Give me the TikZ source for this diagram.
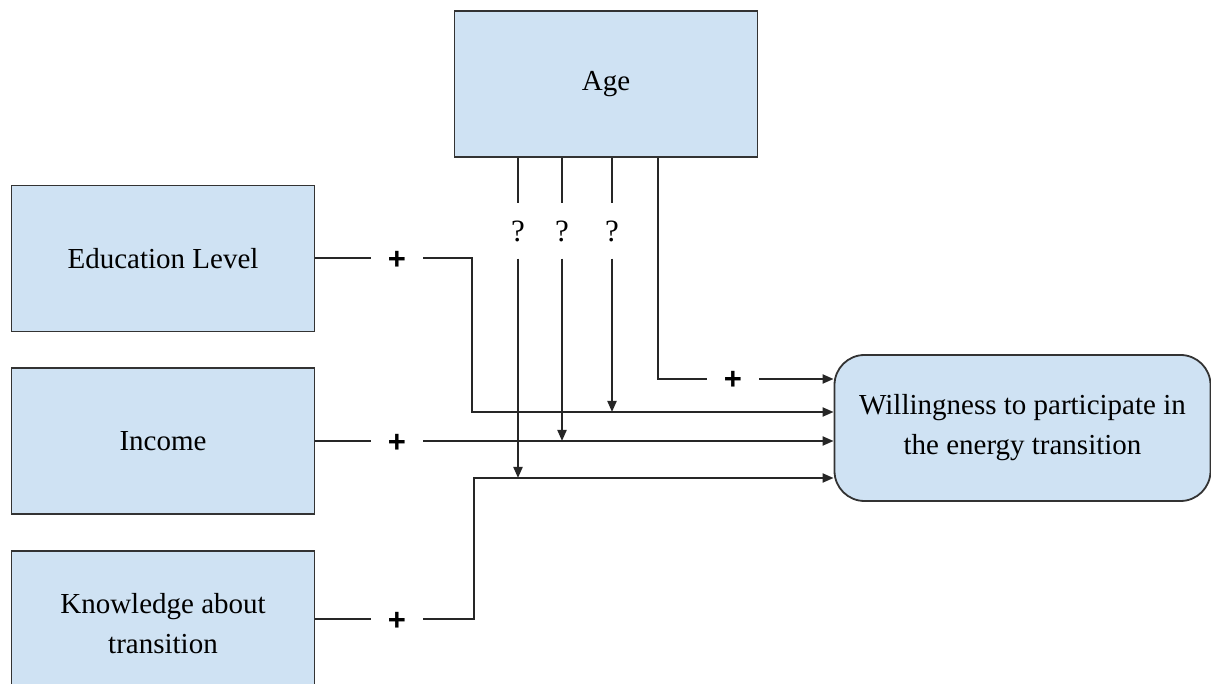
\documentclass[tikz,border=0pt]{standalone}
\usepackage{fontspec}
\setmainfont{Liberation Serif}
\setsansfont{Liberation Sans}
\usetikzlibrary{arrows.meta}
\definecolor{boxfill}{HTML}{CFE2F3}
\definecolor{boxline}{HTML}{333333}
\begin{document}
\begin{tikzpicture}[x=1pt,y=-1pt,
  box/.style={draw=boxline,line width=1.8pt,fill=boxfill,rectangle,
    minimum width=303pt,minimum height=146pt,inner sep=0pt,align=center,
    font=\fontsize{29}{40}\selectfont},
  line/.style={draw=black!85,line width=2pt},
  arr/.style={line,-{Triangle[length=11pt,width=9pt]}},
  plus/.style={rectangle,inner sep=0pt,minimum width=52pt,minimum height=20pt,
    font=\sffamily\bfseries\fontsize{31}{31}\selectfont},
  qm/.style={rectangle,inner sep=0pt,minimum width=14pt,minimum height=55pt,
    font=\fontsize{31}{31}\selectfont}]
\useasboundingbox (0,0) rectangle (1211,684);
% boxes
\node[box] (age) at (606,84) {Age};
\node[box] (edu) at (163,258.5) {Education Level};
\node[box] (inc) at (163,441) {Income};
\node[box] (know) at (163,624) {Knowledge about\\transition};
\node[box,rounded corners=30pt,minimum width=376pt] (will) at (1022.5,428)
  {Willingness to participate in\\the energy transition};
% plus labels
\node[plus] (p1) at (397,260) {+};
\node[plus] (p2) at (397,443) {+};
\node[plus] (p3) at (397,621) {+};
\node[plus] (p4) at (733,380) {+};
% question labels
\node[qm] (q1) at (518,231) {?};
\node[qm] (q2) at (562,231) {?};
\node[qm] (q3) at (612,231) {?};
% turn points
\coordinate (eduturn) at (472,412);
\coordinate (knowturn) at (474,478);
\coordinate (ageturn) at (658,379);
% education
\draw[line] (edu.east |- 0,258) -- (p1.west |- 0,258);
\draw[arr] (p1.east |- 0,258) -- (eduturn |- 0,258) -- (eduturn) -- (will.west |- eduturn);
% income
\draw[line] (inc.east |- 0,441) -- (p2.west |- 0,441);
\draw[arr] (p2.east |- 0,441) -- (will.west |- 0,441);
% knowledge
\draw[line] (know.east |- 0,619) -- (p3.west |- 0,619);
\draw[arr] (p3.east |- 0,619) -- (knowturn |- 0,619) -- (knowturn) -- (will.west |- knowturn);
% age direct
\draw[line] (age.south -| ageturn) -- (ageturn) -- (p4.west |- ageturn);
\draw[arr] (p4.east |- ageturn) -- (will.west |- ageturn);
% age moderating
\draw[line] (age.south -| q1) -- (q1.north);
\draw[line] (age.south -| q2) -- (q2.north);
\draw[line] (age.south -| q3) -- (q3.north);
\draw[arr] (q1.south) -- (q1 |- knowturn);
\draw[arr] (q2.south) -- (q2 |- 0,441);
\draw[arr] (q3.south) -- (q3 |- eduturn);
\end{tikzpicture}
\end{document}
